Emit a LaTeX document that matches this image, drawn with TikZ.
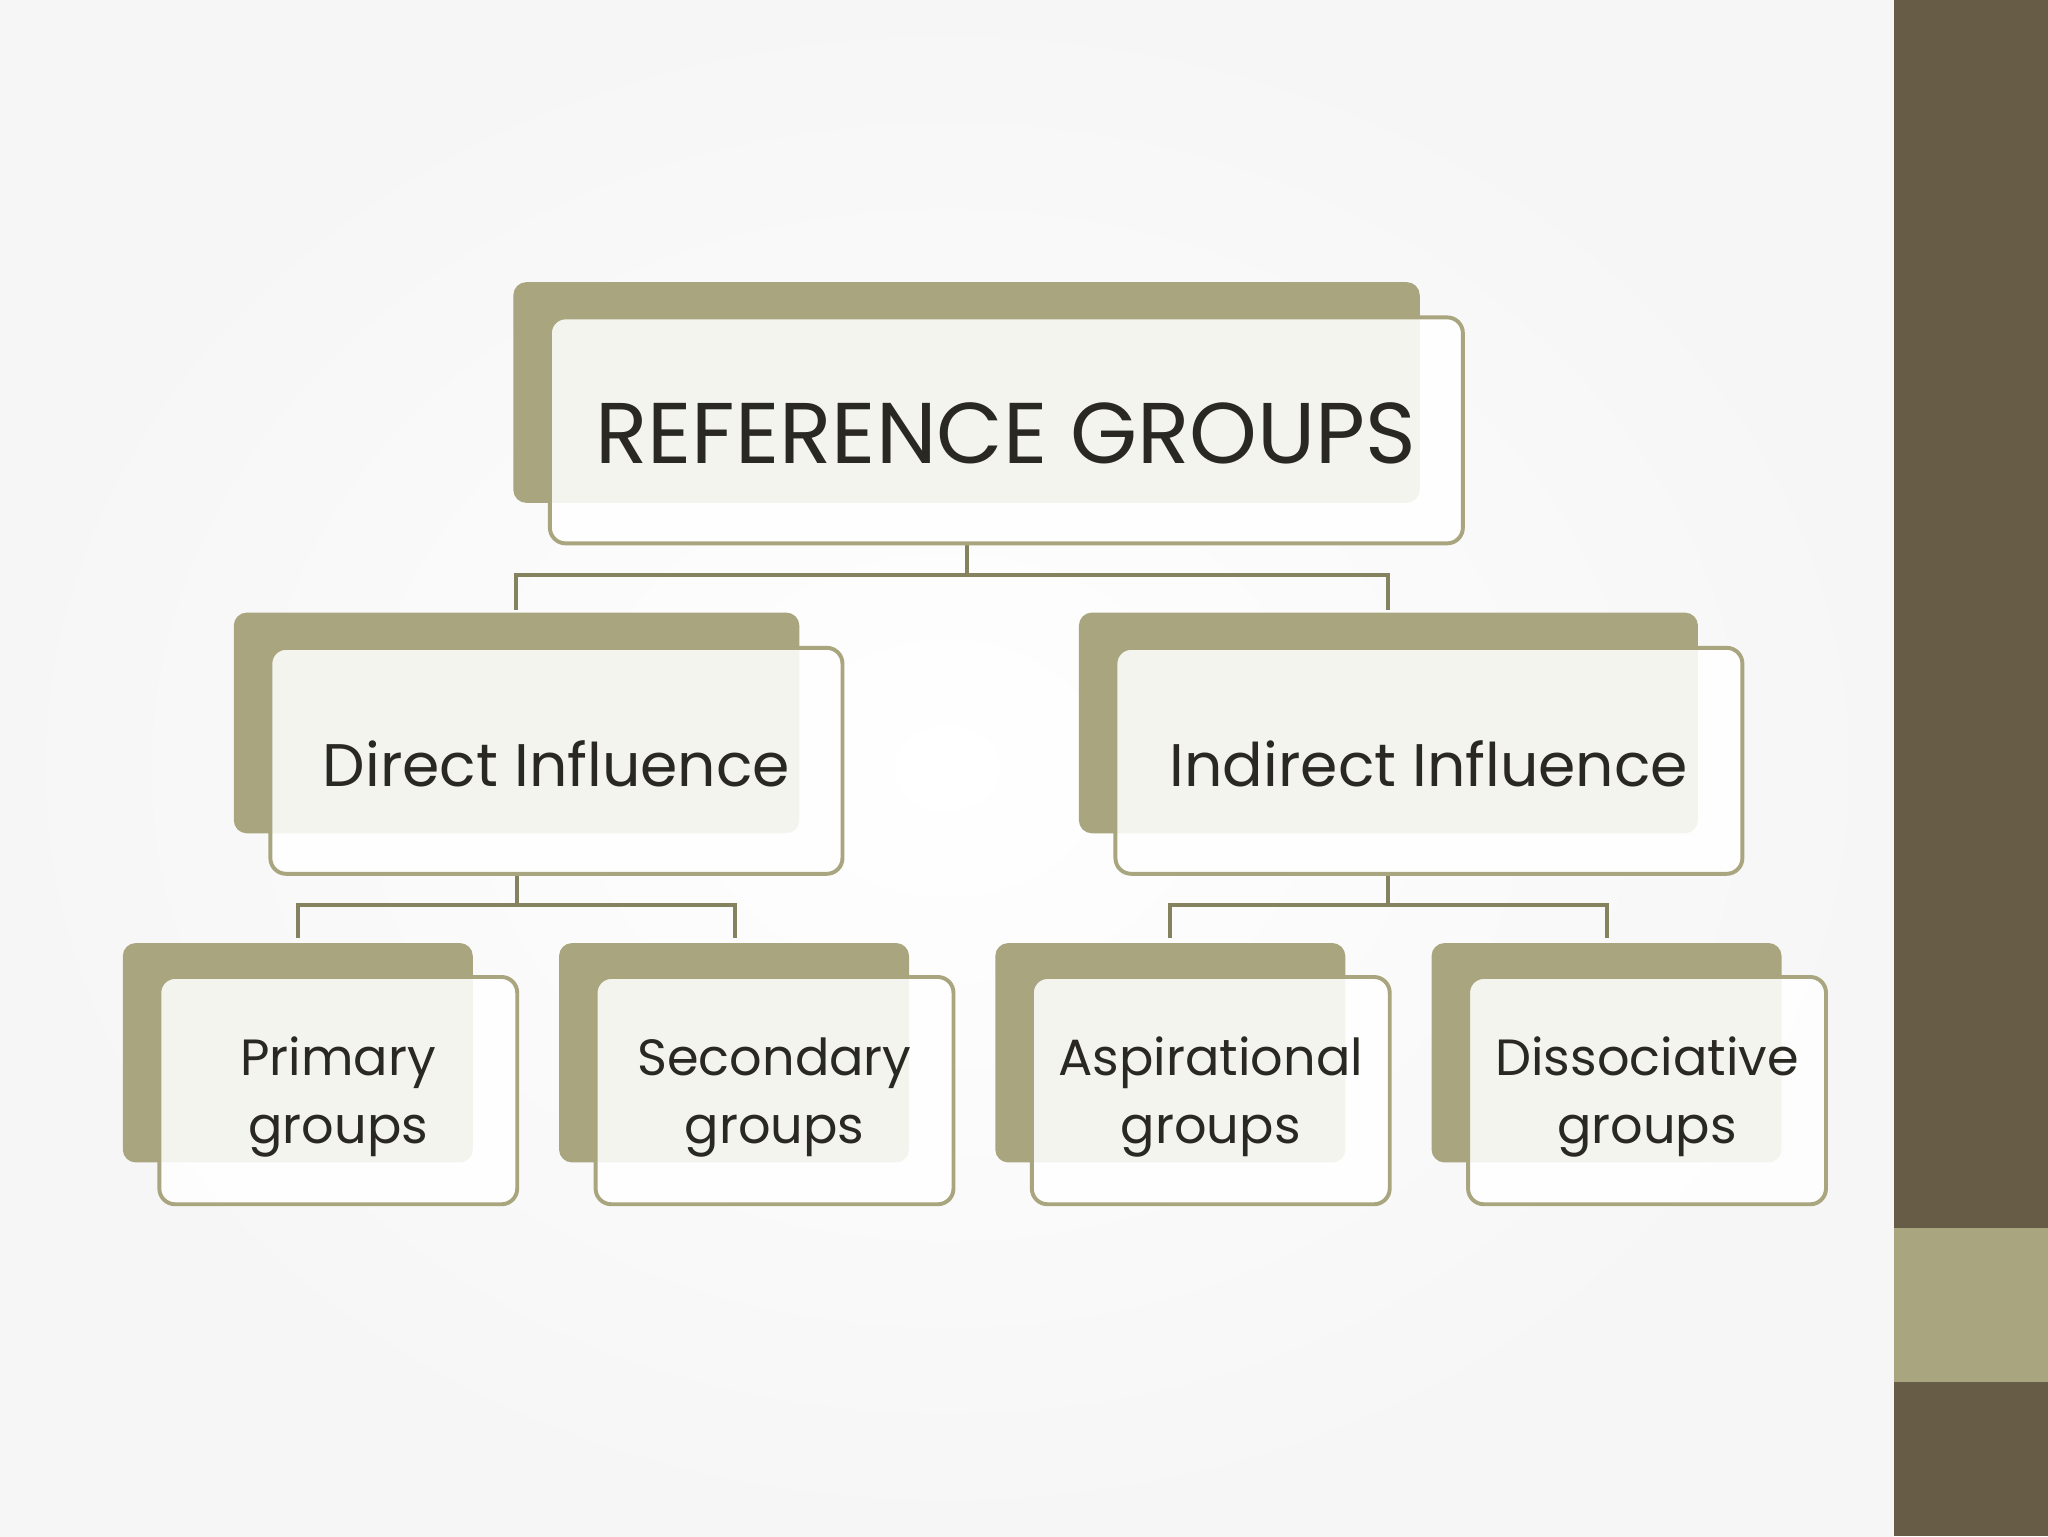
\documentclass[tikz,border=0pt]{standalone}
\usepackage{fontspec}
\setmainfont{Poppins}
\definecolor{olive}{HTML}{A9A57E}
\definecolor{dark}{HTML}{675D47}
\definecolor{line}{HTML}{858260}
\definecolor{txt}{HTML}{2A2822}
\begin{document}
\begin{tikzpicture}[x=1pt,y=-1pt,
  back/.style={fill=olive,rounded corners=10pt},
  front/.style={fill=white,fill opacity=0.88,draw=olive,draw opacity=1,line width=3pt,rounded corners=12pt},
  conn/.style={draw=line,line width=3pt},
  lbl/.style n args={2}{text=txt,align=center,font=\fontsize{#1}{#2}\selectfont}]
\useasboundingbox (0,0) rectangle (1568,1176);
\shade[inner color=white,outer color=gray!7] (0,0) rectangle (1450,1176);
\fill[dark] (1450,0) rectangle (1568,1176);
\fill[olive] (1450,940) rectangle (1568,1058);
% connectors
\coordinate (t1) at (740,416); \coordinate (t2) at (740,440);
\coordinate (tl) at (395,440); \coordinate (tr) at (1063,440);
\coordinate (tld) at (395,467); \coordinate (trd) at (1063,467);
\draw[conn] (t1)--(t2) (tld)--(tl)--(tr)--(trd);
\coordinate (d1) at (396,669); \coordinate (d2) at (396,693);
\draw[conn] (d1)--(d2) (228,718)--(228,693)--(563,693)--(563,718);
\coordinate (i1) at (1063,669); \coordinate (i2) at (1063,693);
\draw[conn] (i1)--(i2) (896,718)--(896,693)--(1230,693)--(1230,718);
% top
\fill[back] (393,216) rectangle (1087,385);
\draw[front] (421,243) rectangle (1120,416);
\node[lbl={66}{80}] (top) at (770,332) {REFERENCE GROUPS};
% mid
\fill[back] (179,469) rectangle (612,638);
\draw[front] (207,496) rectangle (645,669);
\node[lbl={46}{56}] (dir) at (426,585) {Direct Influence};
\fill[back] (826,469) rectangle (1300,638);
\draw[front] (854,496) rectangle (1334,669);
\node[lbl={46}{56}] (ind) at (1094,585) {Indirect Influence};
% bottom
\foreach \x/\a/\b/\n in {94/Primary/groups/p,428/Secondary/groups/s,762/Aspirational/groups/a,1096/Dissociative/groups/d}{
  \fill[back] (\x,722) rectangle (\x+268,890);
  \draw[front] (\x+28,748) rectangle (\x+302,922);
  \node[lbl={39}{52}] (\n) at (\x+165,840) {\a\\\b};
}
\end{tikzpicture}
\end{document}
